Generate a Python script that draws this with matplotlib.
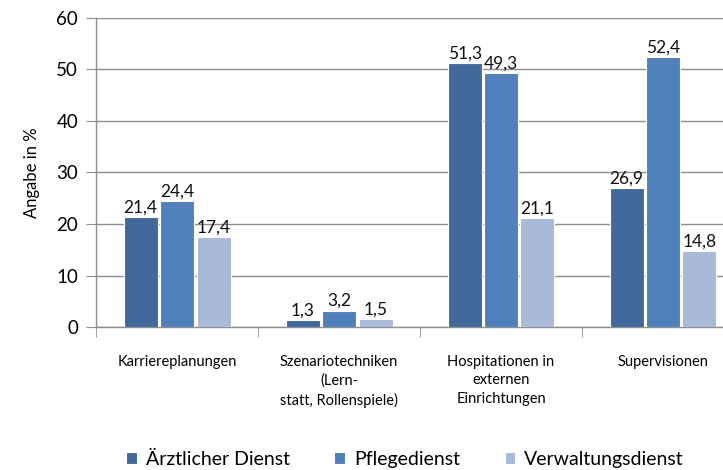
import numpy as np
import matplotlib.pyplot as plt

plt.rcParams['font.family'] = ['Lato', 'DejaVu Sans']

# categories and values (percent)
categories = ["Karriereplanungen",
              "Szenariotechniken\n(Lern-\nstatt, Rollenspiele)",
              "Hospitationen in\nexternen\nEinrichtungen",
              "Supervisionen"]
series_names = ["Ärztlicher Dienst", "Pflegedienst", "Verwaltungsdienst"]
aerztlich = [21.4, 1.3, 51.3, 26.9]
pflege = [24.4, 3.2, 49.3, 52.4]
verwaltung = [17.4, 1.5, 21.1, 14.8]
colors = ['#41699c', '#4f80bc', '#a9bad8']

fig = plt.figure(figsize=(7.23, 4.70), dpi=100)
# right part of the plot is cut off in the original
ax = fig.add_axes([0.133, 0.304, 0.896, 0.658])

x = np.arange(len(categories))
w = 0.21
offsets = [-0.225, 0, 0.225]

for vals, name, col, off in zip([aerztlich, pflege, verwaltung], series_names, colors, offsets):
    bars = ax.bar(x + off, vals, w, color=col, edgecolor='white', linewidth=0.8,
                  label=name, zorder=3)
    for b, v in zip(bars, vals):
        ax.text(b.get_x() + b.get_width() / 2, v + 0.3, f"{v:.1f}".replace('.', ','),
                ha='center', va='bottom', fontsize=12.5, color='#111111', zorder=4)

ax.set_xlim(-0.5, 3.5)
ax.set_ylim(0, 60)
ax.set_yticks(range(0, 61, 10))
ax.yaxis.grid(True, color='#8e8e8e', linewidth=1, zorder=0)
ax.set_axisbelow(True)

ax.set_xticks(x)
ax.set_xticklabels(categories, fontsize=10.5, linespacing=1.4, va='top')
ax.set_xticks(np.arange(-0.5, 4, 1), minor=True)
ax.tick_params(axis='x', which='major', length=0, pad=20)
ax.tick_params(axis='x', which='minor', length=7, color='#8e8e8e', direction='out')
ax.tick_params(axis='y', length=7, color='#8e8e8e', labelsize=13.5, pad=6)

for s in ['top', 'right']:
    ax.spines[s].set_visible(False)
for s in ['left', 'bottom']:
    ax.spines[s].set_color('#8e8e8e')
    ax.spines[s].set_linewidth(1)

ax.set_ylabel("Angabe in %", fontsize=12, labelpad=12)

fig.legend(loc='center', bbox_to_anchor=(0.56, 0.022), ncol=3, frameon=False,
           fontsize=14, handlelength=0.55, handleheight=0.55, handletextpad=0.45,
           columnspacing=2.3)

fig.savefig('out.png', dpi=100)
